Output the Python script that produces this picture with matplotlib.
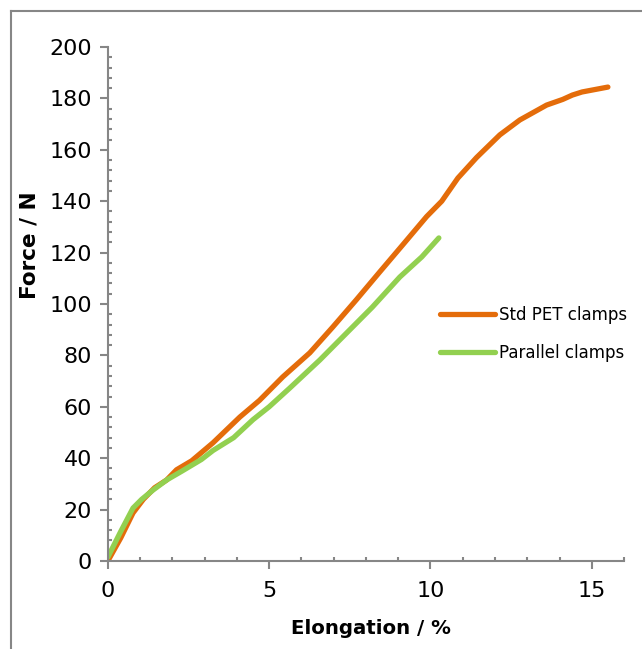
import matplotlib.pyplot as plt
from matplotlib.lines import Line2D
from matplotlib.ticker import MultipleLocator

# Std PET clamps
std_x = [0, 0.4, 0.78, 1.1, 1.45, 1.82, 2.13, 2.6, 3.26, 4.09, 4.7, 5.42, 6.26,
         6.97, 7.7, 8.43, 9.14, 9.88, 10.35, 10.85, 11.43, 12.15, 12.77, 13.6, 14.1,
         14.4, 14.7, 15.5]
std_y = [0, 9, 18.7, 24, 28.5, 31.5, 35.5, 39, 46, 56, 62.5, 71.6, 81,
         91, 101.6, 112.5, 123, 134, 140, 149, 157, 165.8, 171.6, 177.4, 179.6,
         181.3, 182.5, 184.4]

# Parallel clamps
par_x = [0, 0.4, 0.78, 1.05, 1.4, 1.82, 2.3, 2.9, 3.26, 3.9, 4.5, 5.0, 5.64,
         6.57, 7.4, 8.2, 9.05, 9.73, 10.26]
par_y = [1.5, 11.5, 20.6, 24, 27.6, 31.5, 35, 39.5, 43, 48, 55, 60, 67.3,
         78.2, 88.7, 98.8, 110.5, 118.3, 125.7]

labels = ['Std PET clamps', 'Parallel clamps']
colors = ['#E46C0A', '#92D050']
grey = '#868686'

plt.rcParams['font.family'] = 'DejaVu Sans'

fig = plt.figure(figsize=(6.42, 6.49), dpi=100)
ax = fig.add_axes([0.168, 0.1356, 0.804, 0.792])

ax.plot(std_x, std_y, color=colors[0], lw=3.8, solid_capstyle='round', label=labels[0])
ax.plot(par_x, par_y, color=colors[1], lw=3.8, solid_capstyle='round', label=labels[1])

ax.set_xlim(0, 16)
ax.set_ylim(0, 200)
ax.xaxis.set_major_locator(MultipleLocator(5))
ax.xaxis.set_minor_locator(MultipleLocator(1))
ax.yaxis.set_major_locator(MultipleLocator(20))
ax.yaxis.set_minor_locator(MultipleLocator(4))

for s in ['top', 'right']:
    ax.spines[s].set_visible(False)
for s in ['left', 'bottom']:
    ax.spines[s].set_color(grey)
    ax.spines[s].set_linewidth(1.5)

ax.tick_params(which='major', direction='out', length=5.5, width=1.5, color=grey,
               labelsize=16, pad=6)
ax.tick_params(which='minor', direction='in', length=3, width=1.5, color=grey)
ax.tick_params(axis='x', which='major', pad=9)

ax.set_xlabel('Elongation / %', fontsize=14.2, fontweight='bold', va='center', ha='center')
ax.set_ylabel('Force / N', fontsize=15.5, fontweight='bold', va='center', ha='center')
ax.xaxis.set_label_coords(0.509, -0.132)
ax.yaxis.set_label_coords(-0.151, 0.615)

ax.legend(loc='upper left', bbox_to_anchor=(0.685, 0.529), bbox_transform=fig.transFigure,
          frameon=False, fontsize=12, handlelength=3.3, handletextpad=0.25,
          labelspacing=1.23, borderpad=0, borderaxespad=0)

# outer chart frame (left and top edges visible)
fig.add_artist(Line2D([0.017, 0.017], [0, 0.983], color=grey, lw=1.5))
fig.add_artist(Line2D([0.017, 1], [0.983, 0.983], color=grey, lw=1.5))

fig.savefig('out.png', dpi=100)
